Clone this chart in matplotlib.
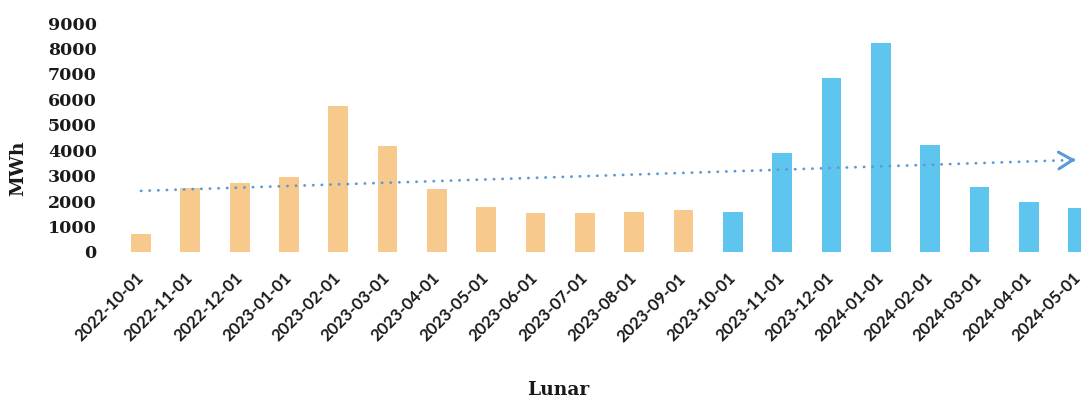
import numpy as np
import matplotlib
matplotlib.use("Agg")
import matplotlib.pyplot as plt

months = ["2022-10-01", "2022-11-01", "2022-12-01", "2023-01-01", "2023-02-01",
          "2023-03-01", "2023-04-01", "2023-05-01", "2023-06-01", "2023-07-01",
          "2023-08-01", "2023-09-01", "2023-10-01", "2023-11-01", "2023-12-01",
          "2024-01-01", "2024-02-01", "2024-03-01", "2024-04-01", "2024-05-01"]
energy_mwh = [700, 2500, 2730, 2930, 5750, 4150, 2470, 1760, 1520, 1520,
              1590, 1650, 1560, 3890, 6820, 8220, 4210, 2570, 1980, 1720]
n_first_period = 12  # months before 2023-10 drawn in orange

orange = "#F8C98C"
blue = "#5EC6EE"
trend_color = "#5B9BD5"

W, H = 1081, 401
fig = plt.figure(figsize=(W / 100, H / 100), dpi=100)
fig.patch.set_facecolor("white")

left_px, right_px, top_px, bottom_px = 105, 1081, 23, 252
ax = fig.add_axes([left_px / W, 1 - bottom_px / H,
                   (right_px - left_px) / W, (bottom_px - top_px) / H])

x = np.arange(len(months))
colors = [orange if i < n_first_period else blue for i in range(len(months))]
ax.bar(x, energy_mwh, width=0.4, color=colors, zorder=2)

# linear trend across all months
slope, intercept = np.polyfit(x, energy_mwh, 1)
trend = intercept + slope * x
ax.plot(x, trend, color=trend_color, lw=2.0, linestyle=(0, (0.1, 3.0)),
        dash_capstyle="round", zorder=3, clip_on=False)
ax.annotate("", xy=(x[-1] - 0.05, trend[-1] - slope * 0.05),
            xytext=(x[-1] - 0.1, trend[-1] - slope * 0.1),
            arrowprops=dict(arrowstyle="->,head_length=0.5,head_width=0.3",
                            color=trend_color, lw=2.2, mutation_scale=20),
            annotation_clip=False, zorder=4)

ax.set_xlim(-0.73, 19.06)
ax.set_ylim(0, 9000)
ax.set_yticks(np.arange(0, 9001, 1000))
ax.set_xticks(x)
ax.set_xticklabels(months, rotation=45, ha="right", va="center",
                   rotation_mode="anchor", fontfamily="Lato",
                   fontweight="bold", fontsize=12, color="#1a1a1a")
for lab in ax.get_yticklabels():
    lab.set_fontfamily("DejaVu Serif")
    lab.set_fontweight("bold")
    lab.set_fontsize(12.5)
    lab.set_color("#1a1a1a")
ax.tick_params(axis="x", length=0, pad=17)
ax.tick_params(axis="y", length=0, pad=6)
for s in ax.spines.values():
    s.set_visible(False)

fig.text(18 / W, 1 - 168 / H, "MWh", rotation=90, ha="center", va="center",
         fontfamily="DejaVu Serif", fontweight="bold", fontsize=13.5,
         color="#1a1a1a")
fig.text(558 / W, 1 - 390 / H, "Lunar", ha="center", va="center",
         fontfamily="DejaVu Serif", fontweight="bold", fontsize=13.5,
         color="#1a1a1a")

fig.savefig("out.png", dpi=100, facecolor="white")
